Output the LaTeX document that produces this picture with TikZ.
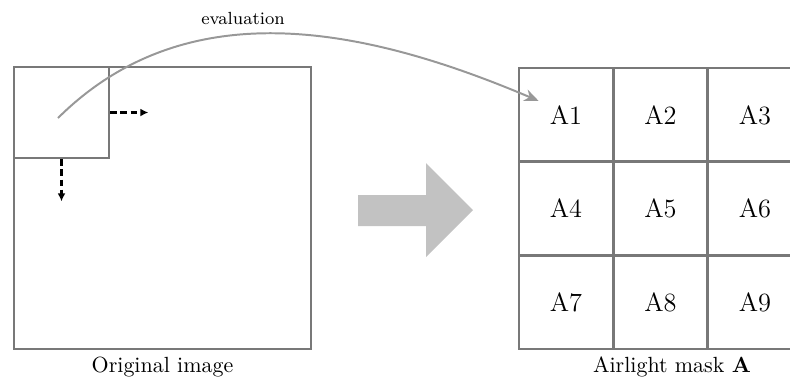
\documentclass[tikz,border=0pt]{standalone}
\usepackage{amsmath}
\usepackage{tikz}
\usetikzlibrary{arrows.meta, calc, positioning}
\definecolor{frgray}{HTML}{787878}
\definecolor{evgray}{HTML}{989898}
\definecolor{bigarr}{HTML}{C2C2C2}
\tikzset{
  frame/.style     = {draw=frgray, line width=1.2pt, inner sep=0pt},
  cell/.style      = {frame, minimum width=1.509cm, minimum height=1.499cm, font=\large},
  slide/.style     = {-{Latex[length=3.6pt, width=3.6pt]}, dash pattern=on 3pt off 1.6pt, line width=1pt},
  evalcurve/.style = {draw=evgray, line width=0.9pt, -{Stealth[length=6.5pt, width=5.5pt]}},
  caption/.style   = {font=\normalsize, inner sep=2pt},
}

\begin{document}
\begin{tikzpicture}[x=0.016cm, y=-0.016cm]
  \path[use as bounding box, clip] (0,0) rectangle (790,379);
  % original image with the sliding window
  \node[frame, minimum width=4.752cm, minimum height=4.512cm] (img) at (162.5,208) {};
  \node[frame, minimum width=1.52cm, minimum height=1.456cm] (win) at (61.5,112.5) {};
  \node[caption, below=1pt of img] (imgcap) {Original image};
  \draw[slide] (win.east) -- ++(38,0);
  \draw[slide] (win.south) -- ++(0,42);
  % big arrow
  \fill[bigarr] (358,195) -- (426,195) -- (426,163) -- (473,210) -- (426,257) -- (426,226) -- (358,226) -- cycle;
  % airlight mask
  \node[cell] (a1) at (566,115) {A1};
  \node[cell] (a2) at (660.5,115) {A2};
  \node[cell] (a3) at (755,115) {A3};
  \node[cell] (a4) at (566,208.5) {A4};
  \node[cell] (a5) at (660.5,208.5) {A5};
  \node[cell] (a6) at (755,208.5) {A6};
  \node[cell] (a7) at (566,302) {A7};
  \node[cell] (a8) at (660.5,302) {A8};
  \node[cell] (a9) at (755,302) {A9};
  \node[caption, below=1pt of a8, xshift=0.184cm] (maskcap) {Airlight mask $\mathbf{A}$};
  % evaluation
  \coordinate (evstart) at ($(win.center)+(-3.5,5.5)$);
  \coordinate (evend) at ($(a1.north west)+(21,34)$);
  \draw[evalcurve] (evstart) .. controls (185,-8) and (360,25) .. (evend);
  \node[font=\footnotesize] (evlab) at (243,18) {evaluation};
\end{tikzpicture}
\end{document}
